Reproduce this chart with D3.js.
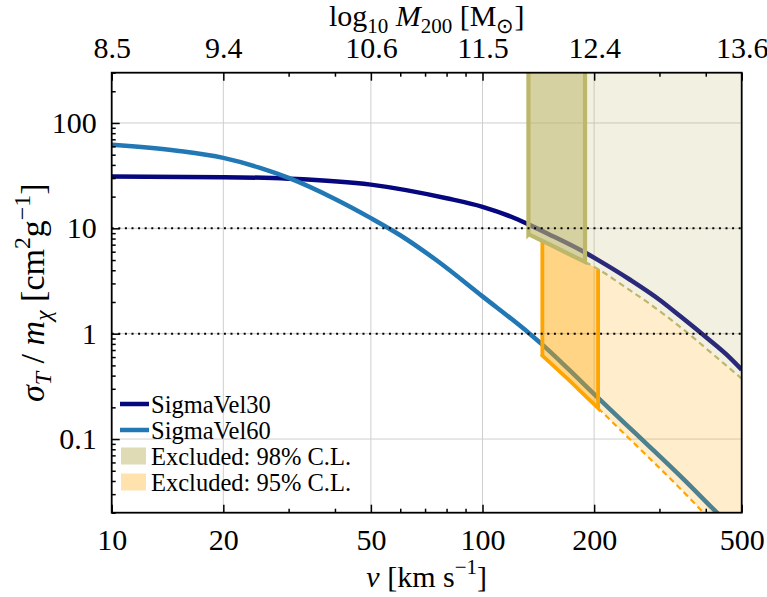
<!DOCTYPE html>
<html>
<head>
<meta charset="utf-8">
<script src="https://cdn.jsdelivr.net/npm/d3@7"></script>
<style>
  body { margin: 0; background: #fff; }
  svg text { font-family: "Liberation Serif", "Times New Roman", serif; fill: #000; }
</style>
</head>
<body>
<svg id="chart" width="767" height="597"></svg>
<script>
// values
const velocity30 = [10, 20, 30, 50, 80, 100, 120, 133, 150, 189, 203, 250, 300, 341, 400, 465, 500];
const sigmaVel30 = [31, 30.6, 29.6, 26, 19.3, 16, 12.8, 10.9, 8.9, 5.9, 5.1, 3.25, 2.1, 1.47, 0.93, 0.59, 0.455];

const velocity60 = [10, 15, 20, 25, 30, 40, 50, 60, 75, 100, 134, 145, 170, 203, 240, 283, 350, 420, 500];
const sigmaVel60 = [62, 54.5, 46.6, 37.7, 30.1, 19, 12.5, 8.6, 5.0, 2.26, 1.0, 0.787, 0.466, 0.254, 0.145, 0.084, 0.041, 0.0215, 0.0118];

const boundVelocity = [133, 145, 170, 189, 205, 240, 283, 350, 420, 500];
const bound98 = [8.8, 7.6, 5.75, 4.8, 4.1, 2.84, 1.91, 1.08, 0.63, 0.375];
const bound95 = [null, 0.62, 0.37, 0.259, 0.197, 0.114, 0.065, 0.031, 0.0158, 0.0084];

const box98 = [133, 189];
const box95 = [145, 205];

const refLevels = [10, 1];

const xMajor = [10, 20, 50, 100, 200, 500];
const xMinor = [30, 40, 60, 70, 80, 90, 300, 400];
const massLabels = ["8.5", "9.4", "10.6", "11.5", "12.4", "13.6"];
const yMajor = [0.1, 1, 10, 100];
const legendLabels = ["SigmaVel30", "SigmaVel60", "Excluded: 98% C.L.", "Excluded: 95% C.L."];

const width = 767, height = 597;
const margin = { top: 72.7, right: 25.3, bottom: 84.3, left: 111.7 };

const svg = d3.select("#chart");

const x = d3.scaleLog().domain([10, 500]).range([margin.left, width - margin.right]);
const y = d3.scaleLog().domain([0.02, 300]).range([height - margin.bottom, margin.top]);

const navy = "#06067f";
const blue = "#2178b5";
const khaki = "#bdb76b";
const orange = "#ffa500";

svg.append("defs").append("clipPath").attr("id", "plotclip")
  .append("rect")
  .attr("x", margin.left).attr("y", margin.top)
  .attr("width", width - margin.left - margin.right)
  .attr("height", height - margin.top - margin.bottom);

const plot = svg.append("g").attr("clip-path", "url(#plotclip)");

// grid
plot.append("g").selectAll("line").data(xMajor.slice(1, -1)).join("line")
  .attr("x1", d => x(d)).attr("x2", d => x(d))
  .attr("y1", margin.top).attr("y2", height - margin.bottom)
  .attr("stroke", "#cfcfcf").attr("stroke-width", 1);
plot.append("g").selectAll("line").data(yMajor).join("line")
  .attr("x1", margin.left).attr("x2", width - margin.right)
  .attr("y1", d => y(d)).attr("y2", d => y(d))
  .attr("stroke", "#cfcfcf").attr("stroke-width", 1);

// model curves
const curveLine = d3.line().x(d => x(d[0])).y(d => y(d[1])).curve(d3.curveMonotoneX);

plot.append("path").datum(d3.zip(velocity30, sigmaVel30))
  .attr("d", curveLine).attr("fill", "none")
  .attr("stroke", navy).attr("stroke-width", 4.5);
plot.append("path").datum(d3.zip(velocity60, sigmaVel60))
  .attr("d", curveLine).attr("fill", "none")
  .attr("stroke", blue).attr("stroke-width", 4.5);

// excluded regions
const bounds = boundVelocity.map((v, i) => ({ v: v, hi: bound98[i], lo: bound95[i] }));
const topValue = 5000;

const area = d3.area().x(d => x(d.v)).curve(d3.curveMonotoneX);

plot.append("path").datum(bounds)
  .attr("d", area.y0(d => y(d.hi)).y1(() => y(topValue)))
  .attr("fill", khaki).attr("fill-opacity", 0.2);

plot.append("path").datum(bounds.filter(d => d.lo !== null))
  .attr("d", area.y0(d => y(d.lo)).y1(d => y(d.hi)))
  .attr("fill", orange).attr("fill-opacity", 0.2);

function boxOutline(rows, lowerKey, upperOf) {
  const first = rows[0], last = rows[rows.length - 1];
  const bottom = d3.line().x(d => x(d.v)).y(d => y(d[lowerKey])).curve(d3.curveMonotoneX)(rows);
  return `M${x(first.v)},${y(upperOf(first))}L${x(first.v)},${y(first[lowerKey])}` +
    bottom.replace(/^M/, "L") +
    `L${x(last.v)},${y(upperOf(last))}`;
}

// 95% box
const rows95 = bounds.filter(d => d.v >= box95[0] && d.v <= box95[1]);
plot.append("path").datum(rows95)
  .attr("d", area.y0(d => y(d.lo)).y1(d => y(d.hi)))
  .attr("fill", orange).attr("fill-opacity", 0.35);
plot.append("path")
  .attr("d", boxOutline(rows95, "lo", d => d.hi))
  .attr("fill", "none").attr("stroke", orange).attr("stroke-width", 3.8)
  .attr("stroke-linejoin", "miter");

// 98% box
const rows98 = bounds.filter(d => d.v >= box98[0] && d.v <= box98[1]);
plot.append("path").datum(rows98)
  .attr("d", area.y0(d => y(d.hi)).y1(() => y(topValue)))
  .attr("fill", khaki).attr("fill-opacity", 0.55);
plot.append("path")
  .attr("d", boxOutline(rows98, "hi", () => topValue))
  .attr("fill", "none").attr("stroke", khaki).attr("stroke-width", 4.2)
  .attr("stroke-linejoin", "miter");

// dashed continuations
const boundLine = key => d3.line().x(d => x(d.v)).y(d => y(d[key])).curve(d3.curveMonotoneX);
plot.append("path").datum(bounds.filter(d => d.v >= box98[1]))
  .attr("d", boundLine("hi")).attr("fill", "none")
  .attr("stroke", khaki).attr("stroke-width", 2.2).attr("stroke-dasharray", "6,4");
plot.append("path").datum(bounds.filter(d => d.v >= box95[1]))
  .attr("d", boundLine("lo")).attr("fill", "none")
  .attr("stroke", orange).attr("stroke-width", 2.2).attr("stroke-dasharray", "6,4");

// dotted reference levels
plot.append("g").selectAll("line").data(refLevels).join("line")
  .attr("x1", margin.left).attr("x2", width - margin.right)
  .attr("y1", d => y(d)).attr("y2", d => y(d))
  .attr("stroke", "#000").attr("stroke-width", 2).attr("stroke-dasharray", "2,4.6");

// axes
const bottomY = height - margin.bottom;
const styleAxis = g => {
  g.attr("font-family", null).attr("font-size", null);
  g.select(".domain").remove();
  g.selectAll(".tick line").attr("stroke", "#000").attr("stroke-width", 1.5);
  g.selectAll("text").style("font-size", "30px");
};

svg.append("g").attr("transform", `translate(0,${bottomY})`)
  .call(d3.axisBottom(x).tickValues(xMajor).tickFormat(d3.format("d")).tickSize(-8).tickPadding(16))
  .call(styleAxis);
svg.append("g").attr("transform", `translate(0,${bottomY})`)
  .call(d3.axisBottom(x).tickValues(xMinor).tickFormat("").tickSize(-4))
  .call(styleAxis);

svg.append("g").attr("transform", `translate(0,${margin.top})`)
  .call(d3.axisTop(x).tickValues(xMajor).tickFormat((d, i) => massLabels[i]).tickSize(-8).tickPadding(15))
  .call(styleAxis);
svg.append("g").attr("transform", `translate(0,${margin.top})`)
  .call(d3.axisTop(x).tickValues(xMinor).tickFormat("").tickSize(-4))
  .call(styleAxis);

const yMinor = [];
[0.01, 0.1, 1, 10, 100].forEach(dec => {
  for (let k = 2; k <= 9; k++) {
    const v = dec * k;
    if (v >= 0.02 && v <= 300) yMinor.push(v);
  }
});
svg.append("g").attr("transform", `translate(${margin.left},0)`)
  .call(d3.axisLeft(y).tickValues(yMajor).tickFormat(d3.format("~g")).tickSize(-8).tickPadding(15))
  .call(styleAxis);
svg.append("g").attr("transform", `translate(${margin.left},0)`)
  .call(d3.axisLeft(y).tickValues(yMinor).tickFormat("").tickSize(-4))
  .call(styleAxis);

// frame
svg.append("rect")
  .attr("x", margin.left).attr("y", margin.top)
  .attr("width", width - margin.left - margin.right)
  .attr("height", height - margin.top - margin.bottom)
  .attr("fill", "none").attr("stroke", "#000").attr("stroke-width", 1.8);

// text with sub/superscripts
function richText(parent, parts, size) {
  const t = parent.append("text").style("font-size", size + "px").attr("text-anchor", "middle");
  let cur = 0;
  parts.forEach(p => {
    const off = p.sub ? size * 0.22 : p.sup ? -size * 0.42 : 0;
    const ts = t.append("tspan").text(p.t).attr("dy", off - cur);
    cur = off;
    if (p.sub || p.sup) ts.style("font-size", (size * 0.7) + "px");
    if (p.it) ts.attr("font-style", "italic");
  });
  return t;
}

const cx = (margin.left + width - margin.right) / 2;

richText(svg.append("g").attr("transform", `translate(${cx},${height - 10})`), [
  { t: "v", it: true }, { t: " [km s" }, { t: "−1", sup: true }, { t: "]" }
], 30);

richText(svg.append("g").attr("transform", `translate(${cx},26)`), [
  { t: "log" }, { t: "10", sub: true }, { t: " " }, { t: "M", it: true }, { t: "200", sub: true },
  { t: " [M" }, { t: "⊙", sub: true }, { t: "]" }
], 30);

richText(svg.append("g").attr("transform", `translate(44,${(margin.top + bottomY) / 2}) rotate(-90)`), [
  { t: "σ", it: true }, { t: "T", sub: true, it: true }, { t: " / " }, { t: "m", it: true },
  { t: "χ", sub: true, it: true }, { t: " [cm" }, { t: "2", sup: true }, { t: "g" }, { t: "−1", sup: true }, { t: "]" }
], 34);

// legend
const legend = svg.append("g");
const rowY = [404, 430, 456, 482];
const legendColors = [navy, blue, khaki, orange];
legendLabels.forEach((label, i) => {
  if (i < 2) {
    legend.append("line")
      .attr("x1", 120).attr("x2", 149).attr("y1", rowY[i]).attr("y2", rowY[i])
      .attr("stroke", legendColors[i]).attr("stroke-width", 4.5);
  } else {
    legend.append("rect")
      .attr("x", 121).attr("y", rowY[i] - 8.5).attr("width", 25).attr("height", 17)
      .attr("fill", legendColors[i]).attr("fill-opacity", i === 2 ? 0.5 : 0.32);
  }
  legend.append("text")
    .attr("x", 151).attr("y", rowY[i] + 8.5)
    .style("font-size", "24.5px")
    .text(label);
});
</script>
</body>
</html>
